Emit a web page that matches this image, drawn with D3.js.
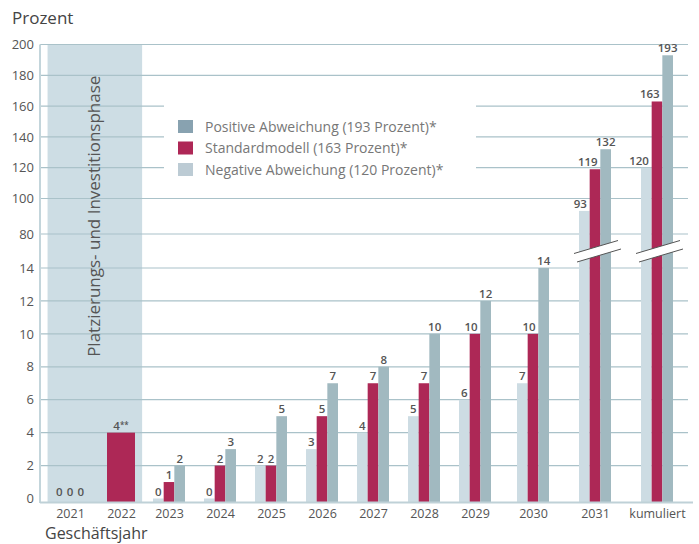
<!DOCTYPE html>
<html>
<head>
<meta charset="utf-8">
<script src="https://cdnjs.cloudflare.com/ajax/libs/d3/7.8.5/d3.min.js"></script>
<style>
  body { margin: 0; background: #fff; }
  text { font-family: "Open Sans", "Noto Sans", sans-serif; }
</style>
</head>
<body>
<div id="chart"></div>
<script>
// categories along the x axis
var categories = ["2021", "2022", "2023", "2024", "2025", "2026", "2027", "2028", "2029", "2030", "2031", "kumuliert"];

// series values (null = no bar)
var negative = [0, null, 0, 0, 2, 3, 4, 5, 6, 7, 93, 120];
var standard = [0, 4, 1, 2, 2, 5, 7, 7, 10, 10, 119, 163];
var positive = [0, null, 2, 3, 5, 7, 8, 10, 12, 14, 132, 193];

// footnote marks attached to single values
var standardNotes = ["", "**", "", "", "", "", "", "", "", "", "", ""];

// y tick labels (broken axis between 14 and 80)
var yTicks = [0, 2, 4, 6, 8, 10, 12, 14, 80, 100, 120, 140, 160, 180, 200];

var legendNames = [
  "Positive Abweichung (193 Prozent)*",
  "Standardmodell (163 Prozent)*",
  "Negative Abweichung (120 Prozent)*"
];
var phaseLabel = "Platzierungs- und Investitionsphase";
var phaseEnd = 1; // last category index in the phase

var width = 699, height = 544;

var colors = { neg: "#cddce3", std: "#ad2856", pos: "#a1b9c0" };
var legendColors = ["#88a2b0", "#ae2756", "#bccbd4"];

var svg = d3.select("#chart")
  .append("svg")
  .attr("width", width)
  .attr("height", height);

// x positions: the later groups sit further apart in the original
var x = d3.scaleLinear()
  .domain([0, 1, 2, 8, 9, 10, 11])
  .range([70, 121, 169, 475, 533, 595, 657]);

var sub = d3.scaleBand().domain(["neg", "std", "pos"]).range([-16, 16]);

// piecewise y scale with the break between 14 and 80
var y = d3.scaleLinear()
  .domain([0, 14, 80, 100, 200])
  .range([498.5, 268, 234, 198.5, 44.5]);

var left = 40, right = 688, baseY = 502;

// phase band
svg.append("rect")
  .attr("x", x(-0.44))
  .attr("y", y(200))
  .attr("width", x(phaseEnd + 0.44) - x(-0.44))
  .attr("height", baseY - y(200))
  .attr("fill", "#cddde4");

// gridlines
svg.append("g")
  .selectAll("line")
  .data(yTicks.filter(function (d) { return d != 0; }))
  .join("line")
  .attr("x1", left)
  .attr("x2", right)
  .attr("y1", function (d) { return y(d); })
  .attr("y2", function (d) { return y(d); })
  .attr("stroke", "#aac2c9")
  .attr("stroke-width", 1.2);

// y axis labels
var yAxis = svg.append("g")
  .attr("transform", "translate(34,0)")
  .call(d3.axisLeft(y).tickValues(yTicks).tickSize(0).tickPadding(0));
yAxis.select(".domain").remove();
yAxis.selectAll("text")
  .attr("font-size", "13px")
  .attr("fill", "#555")
  .style("font-family", "'Open Sans', sans-serif");

// left axis line
svg.append("line")
  .attr("x1", left).attr("x2", left)
  .attr("y1", y(200)).attr("y2", baseY + 1)
  .attr("stroke", "#c3d5db")
  .attr("stroke-width", 2);

// phase label
svg.append("text")
  .attr("transform", "translate(94," + ((y(200) + baseY) / 2 - 57) + ") rotate(-90)")
  .attr("text-anchor", "middle")
  .attr("dy", "0.35em")
  .attr("font-size", "17px")
  .attr("fill", "#555")
  .text(phaseLabel);

// bars
var rows = categories.map(function (c, i) {
  var vals = [
    { key: "neg", v: negative[i], note: "" },
    { key: "std", v: standard[i], note: standardNotes[i] },
    { key: "pos", v: positive[i], note: "" }
  ].filter(function (d) { return d.v !== null; });
  vals.forEach(function (d) {
    d.i = i;
    d.single = vals.length == 1;
  });
  return vals;
});
var bars = [].concat.apply([], rows);

function barX(d) {
  return d.single ? x(d.i) - 14 : x(d.i) + sub(d.key);
}
function barW(d) {
  return d.single ? 28 : sub.bandwidth();
}
function barTop(d) {
  return Math.min(y(d.v), baseY - 2);
}
// wide labels on the left two bars are pushed left so they don't collide
function shiftLeft(d) {
  return d.key != "pos" && !d.single && String(d.v).length > 1;
}

// zero bars inside the phase band are not drawn
svg.append("g")
  .selectAll("rect")
  .data(bars.filter(function (d) { return d.v > 0 || d.i > phaseEnd; }))
  .join("rect")
  .attr("x", barX)
  .attr("y", function (d) { return y(d.v); })
  .attr("width", barW)
  .attr("height", function (d) { return baseY + 1 - y(d.v); })
  .attr("fill", function (d) { return colors[d.key]; });

// axis break marks on groups that cross the gap
var yb = (y(14) + y(80)) / 2;
var broken = categories.map(function (c, i) { return i; })
  .filter(function (i) { return standard[i] > 14; });

var brk = svg.append("g").selectAll("g").data(broken).join("g")
  .attr("transform", function (i) { return "translate(" + x(i) + "," + yb + ")"; });
brk.append("polygon")
  .attr("points", "-21,2.5 23,-10.5 26,-2 -18,11")
  .attr("fill", "#fff");
brk.append("line")
  .attr("x1", -21).attr("y1", 2.5).attr("x2", 23).attr("y2", -10.5)
  .attr("stroke", "#555").attr("stroke-width", 1);
brk.append("line")
  .attr("x1", -18).attr("y1", 11).attr("x2", 26).attr("y2", -2)
  .attr("stroke", "#555").attr("stroke-width", 1);

// baseline
svg.append("line")
  .attr("x1", left).attr("x2", 693)
  .attr("y1", baseY + 0.5).attr("y2", baseY + 0.5)
  .attr("stroke", "#bfd1d7")
  .attr("stroke-width", 2);

// value labels
var labels = svg.append("g")
  .selectAll("text")
  .data(bars)
  .join("text")
  .attr("x", function (d) {
    return shiftLeft(d) ? barX(d) + barW(d) - 2.7 : barX(d) + barW(d) / 2;
  })
  .attr("y", function (d) { return barTop(d) - 3; })
  .attr("text-anchor", function (d) { return shiftLeft(d) ? "end" : "middle"; })
  .attr("font-size", "11.5px")
  .attr("font-weight", "600")
  .attr("fill", "#555");
labels.append("tspan").text(function (d) { return d.v; });
labels.append("tspan")
  .attr("font-size", "8px")
  .attr("dy", -2)
  .text(function (d) { return d.note; });

// x axis labels
var xAxis = svg.append("g")
  .attr("transform", "translate(0," + (baseY + 6) + ")")
  .call(d3.axisBottom(x)
    .tickValues(d3.range(categories.length))
    .tickFormat(function (i) { return categories[i]; })
    .tickSize(0)
    .tickPadding(1));
xAxis.select(".domain").remove();
xAxis.selectAll("text")
  .attr("font-size", "12.5px")
  .attr("fill", "#555")
  .style("font-family", "'Open Sans', sans-serif");

// legend
var legend = svg.append("g");
legend.append("rect")
  .attr("x", 164).attr("y", 88)
  .attr("width", 312).attr("height", 98)
  .attr("fill", "#fff");
var items = legend.selectAll("g")
  .data(legendNames)
  .join("g")
  .attr("transform", function (d, i) { return "translate(178," + (120 + i * 21.5) + ")"; });
items.append("rect")
  .attr("width", 15).attr("height", 13)
  .attr("fill", function (d, i) { return legendColors[i]; });
items.append("text")
  .attr("x", 27).attr("y", 11.5)
  .attr("font-size", "14px")
  .attr("fill", "#777")
  .text(function (d) { return d; });

// titles
svg.append("text")
  .attr("x", 12).attr("y", 24)
  .attr("font-size", "17px")
  .attr("fill", "#444")
  .text("Prozent");
svg.append("text")
  .attr("x", 45).attr("y", 539)
  .attr("font-size", "16px")
  .attr("fill", "#444")
  .text("Geschäftsjahr");
</script>
</body>
</html>
